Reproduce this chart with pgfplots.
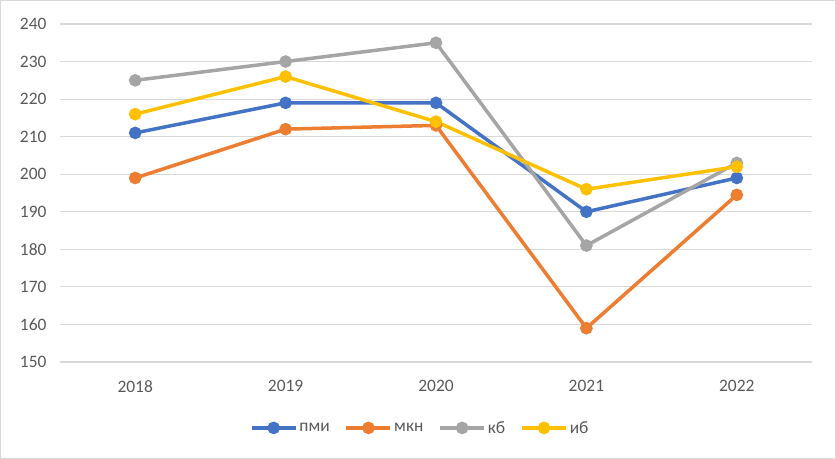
\documentclass[border=0pt]{standalone}
\usepackage{pgfplots}
\pgfplotsset{compat=1.18}
\usepackage{fontspec}
\setmainfont{Carlito}
\definecolor{cblue}{HTML}{4472C4}
\definecolor{corange}{HTML}{ED7D31}
\definecolor{cgray}{HTML}{A5A5A5}
\definecolor{cgold}{HTML}{FFC000}
\definecolor{gridc}{HTML}{D9D9D9}
\definecolor{txt}{HTML}{595959}
\begin{document}
\begin{tikzpicture}[x=1bp,y=1bp]
\draw[draw=gridc, line width=1.2bp] (0.6,0.6) rectangle (835.4,458.4);
\begin{axis}[
  at={(60bp,97bp)}, anchor=south west,
  scale only axis, width=752bp, height=338bp,
  xmin=-0.5, xmax=4.5, ymin=150, ymax=240,
  ytick={150,160,...,240},
  xtick={0,1,2,3,4},
  xticklabels={2018,2019,2020,2021,2022},
  axis line style={draw=none},
  tick style={draw=none},
  ymajorgrids,
  grid style={gridc, line width=1.2bp},
  ticklabel style={font=\fontsize{17.5}{20}\selectfont, text=txt},
  /pgf/number format/assume math mode=true,
  yticklabel style={anchor=east, xshift=-10bp},
  xticklabel style={anchor=north, yshift=-15bp},
  legend style={at={(0.479,-0.195)}, anchor=center, draw=none, fill=none,
    font=\fontsize{17.5}{20}\selectfont, text=txt,
    /tikz/every even column/.append style={column sep=13bp}},
  legend columns=4,
  legend cell align=left,
  legend image code/.code={\draw[mark repeat=2,mark phase=2,#1] plot coordinates {(0bp,0bp) (22bp,0bp) (44bp,0bp)};},
  every axis plot/.append style={line width=3.5bp, mark=*, mark size=4.5bp, mark options={solid}},
]
\addplot[color=cblue] coordinates {(0,211) (1,219) (2,219) (3,190) (4,199)};
\addlegendentry{пми}
\addplot[color=corange] coordinates {(0,199) (1,212) (2,213) (3,159) (4,194.5)};
\addlegendentry{мкн}
\addplot[color=cgray] coordinates {(0,225) (1,230) (2,235) (3,181) (4,203)};
\addlegendentry{кб}
\addplot[color=cgold] coordinates {(0,216) (1,226) (2,214) (3,196) (4,202)};
\addlegendentry{иб}
\end{axis}
\end{tikzpicture}
\end{document}
